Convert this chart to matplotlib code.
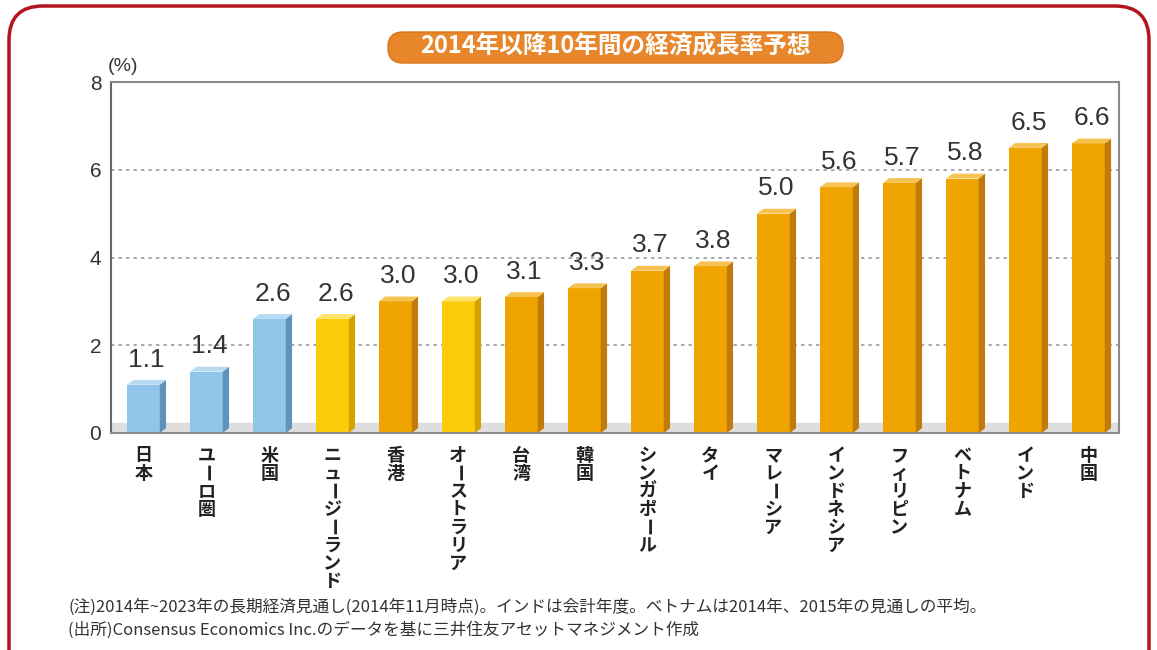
import numpy as np
import matplotlib
matplotlib.use("Agg")
import matplotlib.pyplot as plt
from matplotlib.patches import Polygon, Rectangle, FancyBboxPatch
from matplotlib.transforms import IdentityTransform

plt.rcParams['font.family'] = ['Noto Sans CJK JP', 'DejaVu Sans']

# data
countries = ["日本", "ユーロ圏", "米国", "ニュージーランド", "香港", "オーストラリア",
             "台湾", "韓国", "シンガポール", "タイ", "マレーシア", "インドネシア",
             "フィリピン", "ベトナム", "インド", "中国"]
growth = [1.1, 1.4, 2.6, 2.6, 3.0, 3.0, 3.1, 3.3, 3.7, 3.8, 5.0, 5.6, 5.7, 5.8, 6.5, 6.6]
groups = ["blue", "blue", "blue", "yellow", "orange", "yellow", "orange", "orange",
          "orange", "orange", "orange", "orange", "orange", "orange", "orange", "orange"]
yticks = [0, 2, 4, 6, 8]

title = "2014年以降10年間の経済成長率予想"
note1 = "(注)2014年~2023年の長期経済見通し(2014年11月時点)。インドは会計年度。ベトナムは2014年、2015年の見通しの平均。"
note2 = "(出所)Consensus Economics Inc.のデータを基に三井住友アセットマネジメント作成"

front = {"blue": "#92c5ea", "yellow": "#fbcc0a", "orange": "#f0a400"}
side = {"blue": "#5e93bd", "yellow": "#d6a200", "orange": "#c17a0c"}
top = {"blue": "#b8dbf4", "yellow": "#fde36a", "orange": "#f6c252"}

fig = plt.figure(figsize=(11.57, 6.5), dpi=100)
ax = fig.add_axes([111/1157, 1 - 433/650, (1119-111)/1157, (433-82)/650])

w = 0.52      # front width
dx = 0.10     # depth in x
dy = 0.11     # depth in y

ax.axhspan(0, 0.23, color="#dedede", zorder=0)
for g in yticks[1:-1]:
    ax.axhline(g, color="#9a9a9a", lw=1.2, ls=(0, (2, 2.5)), zorder=0.5)

x = np.arange(len(countries))
for xi, v, grp in zip(x, growth, groups):
    x0, x1 = xi - w/2, xi + w/2
    ax.add_patch(Rectangle((x0, 0), w, v, facecolor=front[grp], edgecolor="none", zorder=2))
    ax.add_patch(Polygon([(x1, 0), (x1+dx, dy), (x1+dx, v+dy), (x1, v)],
                         closed=True, facecolor=side[grp], edgecolor="none", zorder=2))
    ax.add_patch(Polygon([(x0, v), (x1, v), (x1+dx, v+dy), (x0+dx, v+dy)],
                         closed=True, facecolor=top[grp], edgecolor="none", zorder=2))
    ax.text(xi + dx/2, v + 0.3, f"{v:.1f}", ha="center", va="bottom",
            fontsize=19, family="Liberation Sans", color="#333333")

    # vertical (tategaki) category labels, one character per line
    for k, ch in enumerate(countries[xi]):
        ax.annotate(ch, xy=(xi, 0), xycoords=("data", "axes fraction"),
                    xytext=(0, -13 - 18*k), textcoords="offset pixels",
                    ha="center", va="top", fontsize=13, fontweight="bold",
                    color="#222222", rotation=-90 if ch == "ー" else 0)

ax.set_xlim(-0.514, 15.486)
ax.set_ylim(0, 8)
ax.set_yticks(yticks)
ax.set_xticks([])
ax.tick_params(axis="y", length=0, pad=7, labelsize=15, labelcolor="#333333")
for lab in ax.get_yticklabels():
    lab.set_family("Liberation Sans")
for sp in ax.spines.values():
    sp.set_color("#8a8a8a")
    sp.set_linewidth(1.5)
ax.spines["left"].set_color("#666666")

ax.annotate("(%)", xy=(0, 1), xycoords="axes fraction", xytext=(-3, 7),
            textcoords="offset pixels", ha="left", va="bottom", fontsize=14,
            family="Liberation Sans", color="#333333")

# outer rounded frame
fig.patches.append(FancyBboxPatch((9, -40), 1140, 684,
                                  boxstyle="round,pad=0,rounding_size=34",
                                  transform=IdentityTransform(), facecolor="none",
                                  edgecolor="#b3141f", lw=2.5, figure=fig))

# title badge
fig.patches.append(FancyBboxPatch((388, 650-63), 455, 31,
                                  boxstyle="round,pad=0,rounding_size=15",
                                  transform=IdentityTransform(), facecolor="#e8862c",
                                  edgecolor="#d8741e", lw=1, figure=fig))
fig.text(615/1157, 1 - 47/650, title, ha="center", va="center", fontsize=17,
         fontweight="bold", color="white")

fig.text(68/1157, 1 - 607/650, note1, ha="left", va="center", fontsize=12, color="#333333")
fig.text(68/1157, 1 - 630/650, note2, ha="left", va="center", fontsize=12, color="#333333")

fig.savefig("out.png", dpi=100)
